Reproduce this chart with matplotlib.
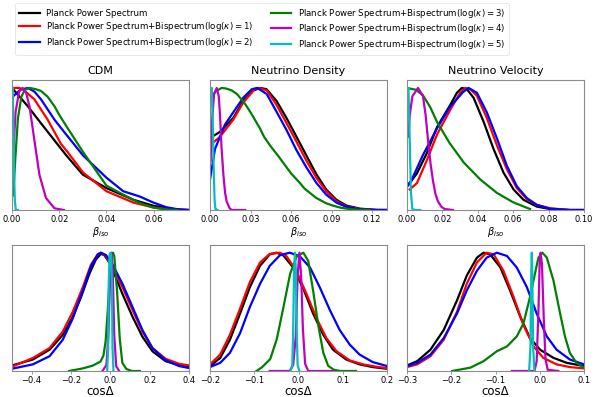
import matplotlib
matplotlib.use("Agg")
import matplotlib.pyplot as plt

# ---------------- legend / series ----------------
series_labels = [
    "Planck Power Spectrum",
    r"Planck Power Spectrum+Bispectrum$(\log(\kappa)=1)$",
    r"Planck Power Spectrum+Bispectrum$(\log(\kappa)=2)$",
    r"Planck Power Spectrum+Bispectrum$(\log(\kappa)=3)$",
    r"Planck Power Spectrum+Bispectrum$(\log(\kappa)=4)$",
    r"Planck Power Spectrum+Bispectrum$(\log(\kappa)=5)$",
]
series_colors = ["k", "r", "b", "g", "m", "c"]

titles = ["CDM", "Neutrino Density", "Neutrino Velocity"]

# ---------------- CDM, beta_iso ----------------
cdm_iso_k_x = [0, 0.0067, 0.0123, 0.018, 0.0229, 0.030, 0.040, 0.0514, 0.060, 0.068, 0.075]
cdm_iso_k_y = [1.0, 0.85, 0.71, 0.57, 0.45, 0.29, 0.18, 0.084, 0.034, 0.008, 0.0]
cdm_iso_r_x = [0, 0.003, 0.0045, 0.0095, 0.0151, 0.0208, 0.0236, 0.0301, 0.040, 0.0514, 0.060, 0.068, 0.075]
cdm_iso_r_y = [1.0, 1.0, 0.99, 0.906, 0.74, 0.54, 0.474, 0.307, 0.154, 0.061, 0.02, 0.003, 0.0]
cdm_iso_b_x = [0, 0.0007, 0.0035, 0.0067, 0.0095, 0.0123, 0.018, 0.0229, 0.0301, 0.040, 0.0471, 0.0542, 0.060, 0.0655, 0.0712, 0.075]
cdm_iso_b_y = [0.92, 0.935, 0.985, 1.0, 0.97, 0.906, 0.74, 0.62, 0.447, 0.265, 0.154, 0.11, 0.06, 0.022, 0.003, 0.0]
cdm_iso_g_x = [0.0005, 0.0015, 0.0025, 0.004, 0.0055, 0.0075, 0.0100, 0.0123, 0.015, 0.018, 0.020, 0.0236, 0.0301, 0.040, 0.0471, 0.0542, 0.060, 0.0655, 0.070]
cdm_iso_g_y = [0.12, 0.45, 0.75, 0.93, 0.985, 1.0, 0.99, 0.975, 0.93, 0.85, 0.78, 0.67, 0.475, 0.2, 0.126, 0.056, 0.02, 0.003, 0.0]
cdm_iso_m_x = [0.0005, 0.0015, 0.003, 0.0045, 0.006, 0.0074, 0.0095, 0.0116, 0.0144, 0.018, 0.022]
cdm_iso_m_y = [0.45, 0.8, 0.97, 1.0, 0.96, 0.85, 0.57, 0.29, 0.098, 0.014, 0.0]
cdm_iso_c_x = [0.0, 0.0003, 0.0006, 0.0009, 0.0012, 0.0016, 0.0025]
cdm_iso_c_y = [0.97, 1.0, 0.7, 0.3, 0.08, 0.0, 0.0]

# ---------------- Neutrino density, beta_iso ----------------
nd_iso_k_x = [0, 0.0074, 0.0172, 0.0246, 0.032, 0.037, 0.0418, 0.0492, 0.0566, 0.064, 0.0713, 0.0787, 0.086, 0.0935, 0.101, 0.111, 0.123, 0.131]
nd_iso_k_y = [0.59, 0.64, 0.754, 0.894, 0.978, 1.0, 0.99, 0.894, 0.754, 0.6, 0.447, 0.293, 0.168, 0.084, 0.036, 0.011, 0.001, 0.0]
nd_iso_r_x = [0, 0.0074, 0.0172, 0.0246, 0.033, 0.036, 0.042, 0.049, 0.0566, 0.064, 0.0713, 0.0787, 0.086, 0.0935, 0.101, 0.111, 0.123, 0.131]
nd_iso_r_y = [0.53, 0.6, 0.74, 0.88, 0.99, 1.0, 0.98, 0.866, 0.712, 0.56, 0.405, 0.265, 0.154, 0.073, 0.028, 0.008, 0.0, 0.0]
nd_iso_b_x = [0, 0.0037, 0.0111, 0.0172, 0.0246, 0.031, 0.035, 0.042, 0.049, 0.0566, 0.064, 0.0713, 0.0787, 0.086, 0.0935, 0.101, 0.111, 0.123, 0.131]
nd_iso_b_y = [0.25, 0.5, 0.7, 0.8, 0.92, 0.99, 1.0, 0.95, 0.81, 0.656, 0.49, 0.35, 0.223, 0.126, 0.061, 0.025, 0.006, 0.0, 0.0]
nd_iso_g_x = [0, 0.004, 0.0086, 0.012, 0.016, 0.02, 0.0259, 0.03, 0.0369, 0.04, 0.045, 0.05, 0.054, 0.06, 0.0664, 0.07, 0.0787, 0.086, 0.091, 0.097, 0.103, 0.11, 0.118]
nd_iso_g_y = [0.9, 0.97, 1.0, 0.995, 0.98, 0.95, 0.87, 0.8, 0.67, 0.6, 0.52, 0.45, 0.39, 0.3, 0.223, 0.175, 0.098, 0.055, 0.036, 0.018, 0.008, 0.002, 0.0]
nd_iso_m_x = [0.0005, 0.0012, 0.003, 0.005, 0.0065, 0.0074, 0.0085, 0.0099, 0.0112, 0.0123, 0.0145, 0.016, 0.02, 0.026]
nd_iso_m_y = [0.4, 0.68, 0.95, 1.0, 0.93, 0.78, 0.52, 0.29, 0.14, 0.07, 0.015, 0.0, 0.0, 0.0]
nd_iso_c_x = [0, 0.0008, 0.0013, 0.002, 0.0027, 0.0034, 0.004, 0.0055]
nd_iso_c_y = [0.85, 0.98, 1.0, 0.75, 0.35, 0.08, 0.01, 0.0]

# ---------------- Neutrino velocity, beta_iso ----------------
nv_iso_k_x = [0, 0.0056, 0.011, 0.017, 0.0244, 0.0282, 0.031, 0.0338, 0.0376, 0.0432, 0.0489, 0.0545, 0.0602, 0.0658, 0.0733, 0.0808, 0.092, 0.1]
nv_iso_k_y = [0.19, 0.30, 0.46, 0.68, 0.86, 0.96, 1.0, 0.99, 0.92, 0.726, 0.5, 0.307, 0.168, 0.084, 0.028, 0.008, 0.0, 0.0]
nv_iso_r_x = [0.0015, 0.0056, 0.011, 0.017, 0.0244, 0.030, 0.033, 0.0357, 0.0395, 0.0451, 0.0508, 0.0564, 0.062, 0.0677, 0.0733, 0.0808, 0.092, 0.1]
nv_iso_r_y = [0.168, 0.22, 0.40, 0.62, 0.82, 0.96, 1.0, 0.99, 0.936, 0.754, 0.53, 0.335, 0.18, 0.089, 0.042, 0.014, 0.0, 0.0]
nv_iso_b_x = [0, 0.0023, 0.009, 0.017, 0.024, 0.0316, 0.0348, 0.0395, 0.0451, 0.0508, 0.0564, 0.062, 0.0677, 0.0733, 0.0808, 0.092, 0.1]
nv_iso_b_y = [0.2, 0.237, 0.45, 0.67, 0.84, 0.965, 1.0, 0.96, 0.8, 0.587, 0.363, 0.196, 0.098, 0.042, 0.011, 0.0, 0.0]
nv_iso_g_x = [0, 0.005, 0.009, 0.0132, 0.017, 0.024, 0.032, 0.0414, 0.0508, 0.06, 0.0695]
nv_iso_g_y = [1.0, 0.985, 0.94, 0.84, 0.72, 0.55, 0.39, 0.25, 0.14, 0.063, 0.008]
nv_iso_m_x = [0.0008, 0.0015, 0.003, 0.0062, 0.009, 0.0105, 0.0119, 0.0133, 0.0147, 0.0161, 0.0175, 0.0195, 0.0213, 0.026]
nv_iso_m_y = [0.6, 0.77, 0.93, 1.0, 0.935, 0.78, 0.57, 0.38, 0.237, 0.13, 0.07, 0.025, 0.008, 0.0]
nv_iso_c_x = [0, 0.0008, 0.0015, 0.0022, 0.003, 0.0045, 0.0075]
nv_iso_c_y = [0.95, 1.0, 0.6, 0.15, 0.01, 0.0, 0.0]

# ---------------- CDM, cos Delta ----------------
cdm_cos_k_x = [-0.5, -0.394, -0.309, -0.242, -0.191, -0.149, -0.107, -0.073, -0.048, -0.031, -0.005, 0.028, 0.062, 0.113, 0.163, 0.214, 0.281, 0.349, 0.4]
cdm_cos_k_y = [0.047, 0.097, 0.18, 0.305, 0.458, 0.625, 0.82, 0.944, 0.99, 0.98, 0.917, 0.79, 0.65, 0.458, 0.29, 0.167, 0.083, 0.05, 0.036]
cdm_cos_r_x = [-0.5, -0.394, -0.309, -0.242, -0.191, -0.14, -0.098, -0.064, -0.048, -0.022, 0.011, 0.062, 0.113, 0.163, 0.214, 0.281, 0.349, 0.4]
cdm_cos_r_y = [0.036, 0.11, 0.194, 0.333, 0.5, 0.708, 0.9, 0.986, 1.0, 0.97, 0.875, 0.708, 0.514, 0.333, 0.194, 0.103, 0.061, 0.047]
cdm_cos_b_x = [-0.5, -0.394, -0.309, -0.242, -0.191, -0.14, -0.098, -0.064, -0.048, -0.022, 0.011, 0.062, 0.113, 0.163, 0.214, 0.281, 0.349, 0.4]
cdm_cos_b_y = [0.019, 0.056, 0.125, 0.264, 0.444, 0.68, 0.889, 0.986, 1.0, 0.98, 0.9, 0.736, 0.54, 0.347, 0.194, 0.092, 0.042, 0.025]
cdm_cos_g_x = [-0.21, -0.14, -0.09, -0.05, -0.035, -0.024, -0.012, -0.002, 0.008, 0.0135, 0.02, 0.034, 0.048, 0.061, 0.081, 0.11, 0.15]
cdm_cos_g_y = [0.0, 0.022, 0.045, 0.08, 0.13, 0.25, 0.54, 0.85, 0.98, 1.0, 0.97, 0.68, 0.27, 0.07, 0.017, 0.0, 0.0]
cdm_cos_m_x = [-0.04, -0.02, -0.01, 0.0, 0.006, 0.012, 0.02, 0.03, 0.045]
cdm_cos_m_y = [0.0, 0.05, 0.3, 0.85, 1.0, 0.85, 0.3, 0.04, 0.0]
cdm_cos_c_x = [-0.016, -0.011, -0.008, -0.004, 0.0, 0.004, 0.008, 0.011, 0.016]
cdm_cos_c_y = [0.0, 0.2, 0.75, 0.98, 1.0, 0.98, 0.75, 0.2, 0.0]

# ---------------- Neutrino density, cos Delta ----------------
nd_cos_k_x = [-0.2, -0.177, -0.155, -0.132, -0.11, -0.087, -0.065, -0.05, -0.035, -0.012, 0.011, 0.033, 0.056, 0.078, 0.108, 0.138, 0.168, 0.2]
nd_cos_k_y = [0.042, 0.11, 0.264, 0.486, 0.708, 0.889, 0.986, 1.0, 0.98, 0.875, 0.694, 0.486, 0.306, 0.18, 0.097, 0.056, 0.033, 0.019]
nd_cos_r_x = [-0.2, -0.177, -0.155, -0.132, -0.11, -0.087, -0.065, -0.042, -0.027, -0.005, 0.018, 0.041, 0.063, 0.086, 0.116, 0.146, 0.176, 0.2]
nd_cos_r_y = [0.056, 0.139, 0.306, 0.528, 0.75, 0.917, 0.99, 1.0, 0.97, 0.847, 0.653, 0.444, 0.278, 0.167, 0.089, 0.056, 0.036, 0.025]
nd_cos_b_x = [-0.2, -0.177, -0.155, -0.132, -0.11, -0.087, -0.065, -0.042, -0.02, 0.003, 0.026, 0.048, 0.071, 0.093, 0.116, 0.138, 0.168, 0.2]
nd_cos_b_y = [0.033, 0.069, 0.153, 0.32, 0.54, 0.736, 0.889, 0.978, 1.0, 0.97, 0.875, 0.708, 0.514, 0.347, 0.222, 0.139, 0.075, 0.042]
nd_cos_g_x = [-0.095, -0.083, -0.064, -0.049, -0.034, -0.019, -0.004, 0.011, 0.022, 0.033, 0.045, 0.056, 0.067, 0.08, 0.095, 0.13]
nd_cos_g_y = [0.0, 0.03, 0.1, 0.27, 0.54, 0.82, 0.97, 1.0, 0.93, 0.68, 0.38, 0.155, 0.044, 0.01, 0.0, 0.0]
nd_cos_m_x = [-0.065, -0.02, -0.012, -0.006, -0.002, 0.002, 0.006, 0.01, 0.015, 0.022, 0.078]
nd_cos_m_y = [0.0, 0.0, 0.05, 0.3, 0.8, 1.0, 0.8, 0.35, 0.06, 0.0, 0.0]
nd_cos_c_x = [-0.018, -0.014, -0.012, -0.010, -0.008, -0.006, -0.004, -0.002, 0.002]
nd_cos_c_y = [0.0, 0.05, 0.35, 0.85, 1.0, 0.85, 0.35, 0.05, 0.0]

# ---------------- Neutrino velocity, cos Delta ----------------
nv_cos_k_x = [-0.3, -0.277, -0.247, -0.217, -0.187, -0.165, -0.142, -0.127, -0.112, -0.089, -0.067, -0.044, -0.022, 0.0008, 0.031, 0.061, 0.1]
nv_cos_k_y = [0.047, 0.083, 0.18, 0.347, 0.597, 0.806, 0.958, 1.0, 0.986, 0.875, 0.68, 0.458, 0.278, 0.18, 0.111, 0.069, 0.042]
nv_cos_r_x = [-0.3, -0.277, -0.247, -0.217, -0.187, -0.165, -0.142, -0.12, -0.104, -0.082, -0.059, -0.037, -0.014, 0.008, 0.038, 0.068, 0.1]
nv_cos_r_y = [0.033, 0.056, 0.125, 0.264, 0.5, 0.736, 0.917, 1.0, 0.986, 0.847, 0.625, 0.39, 0.208, 0.111, 0.056, 0.033, 0.022]
nv_cos_b_x = [-0.3, -0.277, -0.247, -0.217, -0.187, -0.165, -0.142, -0.12, -0.097, -0.074, -0.052, -0.029, -0.007, 0.016, 0.038, 0.068, 0.1]
nv_cos_b_y = [0.042, 0.069, 0.139, 0.278, 0.486, 0.68, 0.847, 0.958, 1.0, 0.972, 0.875, 0.708, 0.486, 0.292, 0.18, 0.097, 0.056]
nv_cos_g_x = [-0.198, -0.157, -0.127, -0.097, -0.074, -0.052, -0.037, -0.022, -0.011, -0.003, 0.006, 0.016, 0.031, 0.046, 0.057, 0.068, 0.083, 0.1]
nv_cos_g_y = [0.0, 0.028, 0.083, 0.167, 0.208, 0.292, 0.40, 0.625, 0.82, 0.958, 1.0, 0.958, 0.764, 0.486, 0.292, 0.153, 0.069, 0.028]
nv_cos_m_x = [-0.063, -0.012, -0.007, -0.003, 0.0, 0.002, 0.005, 0.009, 0.013, 0.018, 0.042]
nv_cos_m_y = [0.0, 0.0, 0.08, 0.5, 0.95, 1.0, 0.9, 0.45, 0.1, 0.01, 0.0]
nv_cos_c_x = [-0.024, -0.021, -0.019, -0.018, -0.017, -0.015, -0.012]
nv_cos_c_y = [0.0, 0.2, 0.85, 1.0, 0.85, 0.2, 0.0]

# ---------------- axis settings ----------------
iso_xlims = [(0, 0.075), (0, 0.131), (0, 0.10)]
iso_xticks = [[0.00, 0.02, 0.04, 0.06], [0.00, 0.03, 0.06, 0.09, 0.12], [0.00, 0.02, 0.04, 0.06, 0.08, 0.10]]
cos_xlims = [(-0.5, 0.4), (-0.2, 0.2), (-0.3, 0.1)]
cos_xticks = [[-0.4, -0.2, 0.0, 0.2, 0.4], [-0.2, -0.1, 0.0, 0.1, 0.2], [-0.3, -0.2, -0.1, 0.0, 0.1]]

iso_curves = [
    [(cdm_iso_k_x, cdm_iso_k_y), (cdm_iso_r_x, cdm_iso_r_y), (cdm_iso_b_x, cdm_iso_b_y),
     (cdm_iso_g_x, cdm_iso_g_y), (cdm_iso_m_x, cdm_iso_m_y), (cdm_iso_c_x, cdm_iso_c_y)],
    [(nd_iso_k_x, nd_iso_k_y), (nd_iso_r_x, nd_iso_r_y), (nd_iso_b_x, nd_iso_b_y),
     (nd_iso_g_x, nd_iso_g_y), (nd_iso_m_x, nd_iso_m_y), (nd_iso_c_x, nd_iso_c_y)],
    [(nv_iso_k_x, nv_iso_k_y), (nv_iso_r_x, nv_iso_r_y), (nv_iso_b_x, nv_iso_b_y),
     (nv_iso_g_x, nv_iso_g_y), (nv_iso_m_x, nv_iso_m_y), (nv_iso_c_x, nv_iso_c_y)],
]
cos_curves = [
    [(cdm_cos_k_x, cdm_cos_k_y), (cdm_cos_r_x, cdm_cos_r_y), (cdm_cos_b_x, cdm_cos_b_y),
     (cdm_cos_g_x, cdm_cos_g_y), (cdm_cos_m_x, cdm_cos_m_y), (cdm_cos_c_x, cdm_cos_c_y)],
    [(nd_cos_k_x, nd_cos_k_y), (nd_cos_r_x, nd_cos_r_y), (nd_cos_b_x, nd_cos_b_y),
     (nd_cos_g_x, nd_cos_g_y), (nd_cos_m_x, nd_cos_m_y), (nd_cos_c_x, nd_cos_c_y)],
    [(nv_cos_k_x, nv_cos_k_y), (nv_cos_r_x, nv_cos_r_y), (nv_cos_b_x, nv_cos_b_y),
     (nv_cos_g_x, nv_cos_g_y), (nv_cos_m_x, nv_cos_m_y), (nv_cos_c_x, nv_cos_c_y)],
]

# ---------------- figure ----------------
W, H = 597, 397
fig = plt.figure(figsize=(W / 100, H / 100), dpi=100)

col_left = [12, 210, 407]
ax_w = 177
top_row = (80, 210)
bot_row = (245, 371)
spine_col = "#8c8c8c"
LW = 1.6


def make_ax(left, row):
    t, b = row
    return fig.add_axes([left / W, (H - b) / H, ax_w / W, (b - t) / H])


def style(ax):
    for s in ax.spines.values():
        s.set_color(spine_col)
        s.set_linewidth(0.8)
    ax.set_yticks([])
    ax.tick_params(axis="x", labelsize=6, length=2.5, width=0.6, pad=1.0, color=spine_col)
    ax.set_ylim(0, 1.065)


handles = []
for i in range(3):
    ax = make_ax(col_left[i], top_row)
    for j, (xs, ys) in enumerate(iso_curves[i]):
        ln, = ax.plot(xs, ys, color=series_colors[j], lw=LW, label=series_labels[j])
        if i == 0:
            handles.append(ln)
    ax.set_xlim(*iso_xlims[i])
    ax.set_xticks(iso_xticks[i])
    ax.set_xticklabels(["%.2f" % v for v in iso_xticks[i]])
    style(ax)
    ax.set_title(titles[i], fontsize=8, pad=4)
    ax.set_xlabel(r"$\beta_{iso}$", fontsize=7, labelpad=1)

for i in range(3):
    ax = make_ax(col_left[i], bot_row)
    for j, (xs, ys) in enumerate(cos_curves[i]):
        ax.plot(xs, ys, color=series_colors[j], lw=LW)
    ax.set_xlim(*cos_xlims[i])
    ax.set_xticks(cos_xticks[i])
    ax.set_xticklabels([("%.1f" % v).replace("-", "\u2212") for v in cos_xticks[i]])
    style(ax)
    ax.set_xlabel("cos\u0394", fontsize=8.5, labelpad=0)

leg = fig.legend(handles=handles, labels=series_labels, ncol=2, fontsize=6.2,
                 loc="upper left", bbox_to_anchor=(15 / W, 1 - 3 / H),
                 frameon=True, fancybox=True, handlelength=2.4,
                 borderaxespad=0, labelspacing=0.3, columnspacing=2.0,
                 borderpad=0.45)
leg.get_frame().set_edgecolor("#dddddd")
leg.get_frame().set_linewidth(0.6)

fig.savefig("out.png", dpi=100)
